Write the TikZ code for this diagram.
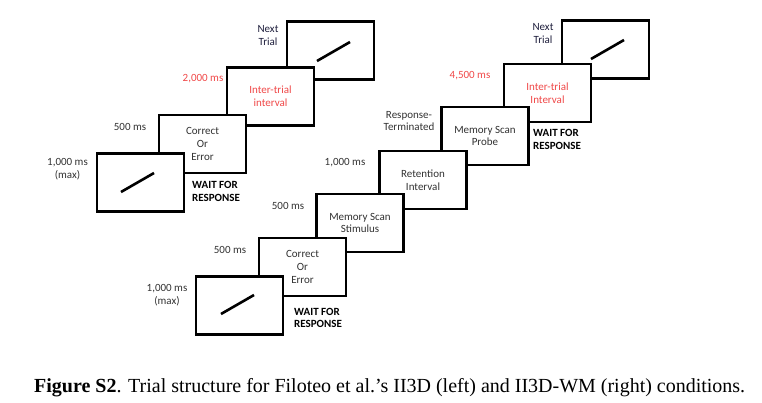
\documentclass[tikz,border=0pt]{standalone}
\usepackage{fontspec}
\setmainfont{Carlito}
\newfontfamily\capfont{Liberation Serif}
\definecolor{txtgray}{RGB}{50,50,50}
\definecolor{txtnavy}{RGB}{30,30,60}
\definecolor{itired}{RGB}{240,72,72}
\tikzset{
  trialbox/.style={draw=black, line width=2.6pt, fill=white, minimum width=87pt, minimum height=58pt, inner sep=0pt, align=center, text=txtgray, font=\fontsize{11}{12.8}\selectfont},
  stimline/.style={line width=2.6pt, line cap=butt},
  lbl/.style={inner sep=0pt, align=center, text=txtgray, font=\fontsize{11}{12.8}\selectfont},
  redlbl/.style={lbl, text=itired},
  waitlbl/.style={inner sep=0pt, align=left, anchor=west, text=black, font=\bfseries\fontsize{11}{12.8}\selectfont}
}
\begin{document}
\begin{tikzpicture}[x=1pt,y=-1pt]
\useasboundingbox (0,0) rectangle (762,403);
% ---------- left stack (back to front)
\node[trialbox] (L4) at (330.5,50.5) {};
\draw[stimline] (317,61) -- (350,42);
\node[trialbox, text=itired] (L3) at (270.5,96.5) {Inter-trial\\interval};
\node[trialbox] (L2) at (202.5,144) {Correct\\Or\\Error};
\node[trialbox] (L1) at (140.5,182.5) {};
\draw[stimline] (121,192) -- (154,173);
\node[lbl, text=txtnavy] (l4t) at (268,35.5) {Next\\Trial};
\node[redlbl] (l3t) at (203,79) {2,000 ms};
\node[lbl] (l2t) at (130,127) {500 ms};
\node[lbl] (l1t) at (67.5,169.5) {1,000 ms\\(max)};
\node[waitlbl] (lw) at (192,191.5) {WAIT FOR\\RESPONSE};
% ---------- right stack (back to front)
\node[trialbox] (R6) at (605.5,49.5) {};
\draw[stimline] (591,59) -- (624,40);
\node[trialbox, text=itired] (R5) at (547.5,93) {Inter-trial\\Interval};
\node[trialbox] (R4) at (485,136) {Memory Scan\\Probe};
\node[trialbox] (R3) at (423,180) {Retention\\Interval};
\node[trialbox] (R2) at (360,223) {Memory Scan\\Stimulus};
\node[trialbox] (R1) at (302.5,267) {Correct\\Or\\Error};
\node[trialbox] (R0) at (239.5,305.5) {};
\draw[stimline] (221,314) -- (254,295);
\node[lbl, text=txtnavy] (r6t) at (543,33.5) {Next\\Trial};
\node[redlbl] (r5t) at (470,76) {4,500 ms};
\node[lbl] (r4t) at (409,121) {Response-\\Terminated};
\node[lbl] (r3t) at (345,163) {1,000 ms};
\node[lbl] (r2t) at (288,206) {500 ms};
\node[lbl] (r1t) at (230,250) {500 ms};
\node[lbl] (r0t) at (167,295) {1,000 ms\\(max)};
\node[waitlbl] (rw1) at (533,139.5) {WAIT FOR\\RESPONSE};
\node[waitlbl] (rw0) at (294,318) {WAIT FOR\\RESPONSE};
% ---------- caption
\node[inner sep=0pt, anchor=base west, font=\capfont\fontsize{18}{20}\selectfont] (cap) at (34,392) {\resizebox{711pt}{!}{\textbf{Figure S2}. Trial structure for Filoteo et al.’s II3D (left) and II3D-WM (right) conditions.}};
\end{tikzpicture}
\end{document}
